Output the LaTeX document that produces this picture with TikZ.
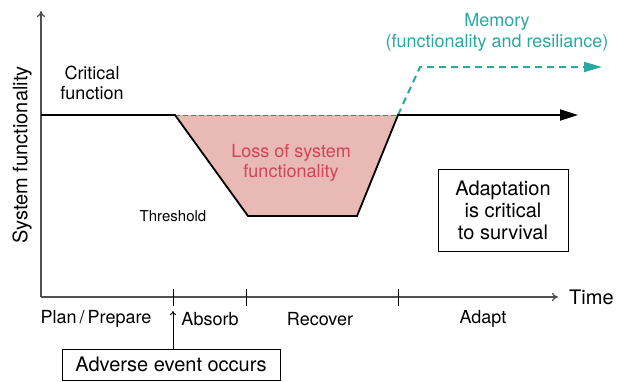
\documentclass[tikz,border=0pt]{standalone}
\usepackage{fontspec}
\setmainfont{TeX Gyre Heros}
\usetikzlibrary{arrows.meta}
\definecolor{lossred}{HTML}{CF4556}
\definecolor{lossfill}{HTML}{E9B9B5}
\definecolor{memteal}{HTML}{2BA8A2}
\definecolor{axisgray}{HTML}{505050}
\begin{document}
\begin{tikzpicture}[x=1pt, y=-1pt,
    every node/.style={font=\fontsize{18}{20}\selectfont, align=center, inner sep=0pt},
    boxed/.style={draw, line width=0.8pt, font=\fontsize{20}{22}\selectfont},
    axis/.style={axisgray, line width=1.2pt},
    curve/.style={line width=1.8pt, line join=miter}]
    \useasboundingbox (0,0) rectangle (628,381);
    % axes
    \coordinate (origin) at (41,297);
    \coordinate (ytop) at (41,11);
    \coordinate (xend) at (558,297);
    \draw[axis, -{To[length=6pt,width=8pt]}] (origin) -- (ytop);
    \draw[axis, -{To[length=6pt,width=8pt]}] (origin) -- (xend);
    \node[anchor=west, font=\fontsize{20}{22}\selectfont] (time) at (569,297) {Time};
    \node[rotate=90, font=\fontsize{20}{22}\selectfont] (sysfun) at (22,155) {System functionality};
    % phase ticks
    \foreach \t in {173,246,398}
        \draw[line width=0.9pt] (\t,289) -- (\t,306);
    \node (plan) at (96,319) {Plan\,/\,Prepare};
    \node (absorb) at (210,319) {Absorb};
    \node (recover) at (320,319) {Recover};
    \node (adapt) at (483,319) {Adapt};
    % functionality curve
    \coordinate (drop) at (175,115);
    \coordinate (low1) at (248,216);
    \coordinate (low2) at (357,216);
    \coordinate (back) at (398,115);
    \coordinate (mem) at (420,67);
    \fill[lossfill] (drop) -- (low1) -- (low2) -- (back) -- cycle;
    \draw[lossred, line width=0.9pt, dash pattern=on 5pt off 3pt] (drop) -- (back);
    \draw[memteal, line width=2pt, dash pattern=on 7pt off 5pt, -{Triangle[length=18pt,width=10pt]}] (back) -- (mem) -- (602,67);
    \draw[curve, -{Triangle[length=18pt,width=11pt]}] (41,115) -- (drop) -- (low1) -- (low2) -- (back) -- (578,115);
    % labels
    \node (critical) at (92,83) {Critical\\function};
    \node[text=lossred] (loss) at (291,163) {Loss of system\\functionality};
    \node[font=\fontsize{15}{17}\selectfont] (threshold) at (173,216) {Threshold};
    \node[text=memteal, font=\fontsize{18}{21}\selectfont] (memory) at (497,32) {Memory\\(functionality and resiliance)};
    \node[boxed, minimum width=130pt, minimum height=82pt] (survive) at (503,210) {Adaptation\\is critical\\to survival};
    \node[boxed, minimum width=218pt, minimum height=31pt] (event) at (171,364.5) {Adverse event occurs};
    \draw[line width=0.9pt, -{To[length=4pt,width=6pt]}] (event.north -| 173,0) -- (173,311);
\end{tikzpicture}
\end{document}
